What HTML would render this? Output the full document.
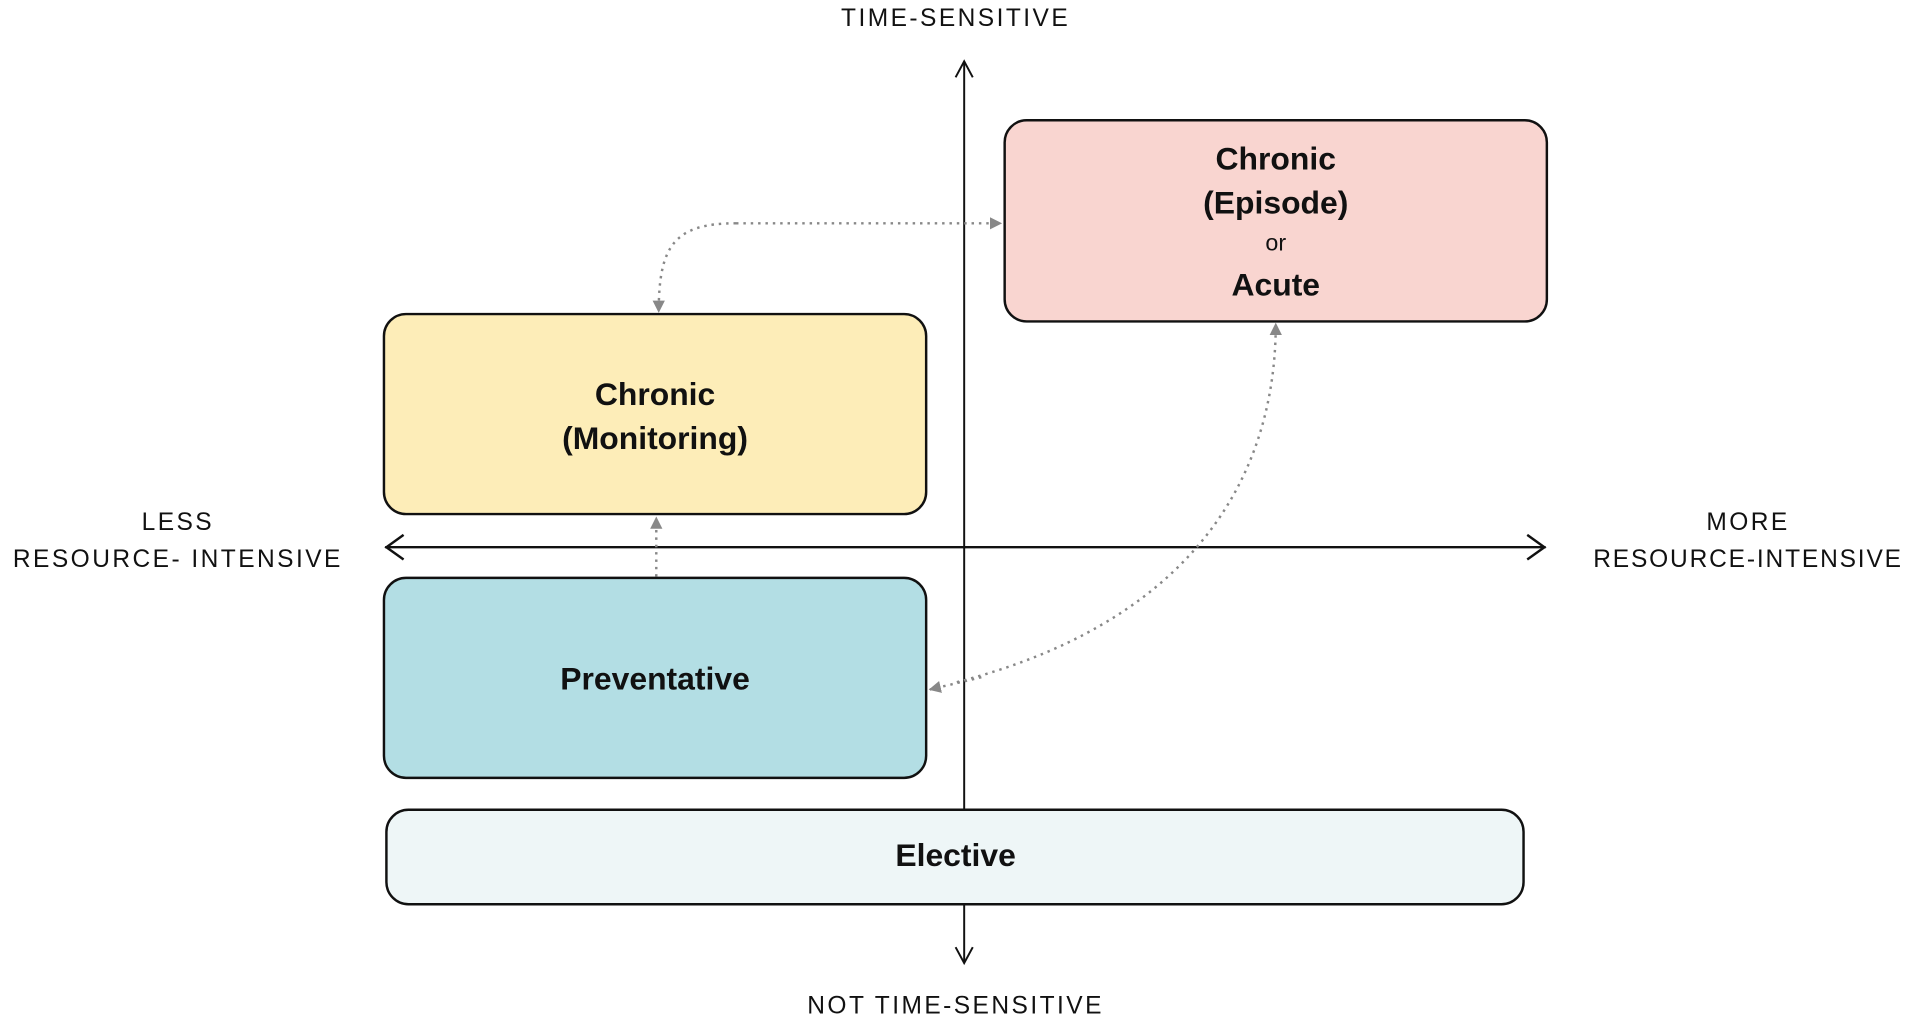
<!DOCTYPE html>
<html><head><meta charset="utf-8"><style>html,body{margin:0;padding:0;background:#fff;}svg{display:block}</style></head>
<body>
<svg width="1921" height="1022" viewBox="0 0 1566 833" preserveAspectRatio="none" xmlns="http://www.w3.org/2000/svg" font-family="Liberation Sans, sans-serif">
<defs>
<marker id="g" markerWidth="10" markerHeight="10" refX="9" refY="5" orient="auto" markerUnits="userSpaceOnUse" viewBox="0 0 10 10"><path d="M0,0 L10,5 L0,10 z" fill="#888"/></marker>
</defs>
<!-- axes -->
<line x1="786" y1="50" x2="786" y2="785" stroke="#111" stroke-width="1.6"/>
<polyline points="779,63 786,50 793,63" fill="none" stroke="#111" stroke-width="1.6"/>
<polyline points="779,772 786,785 793,772" fill="none" stroke="#111" stroke-width="1.6"/>
<line x1="314" y1="446" x2="1260" y2="446" stroke="#111" stroke-width="2"/>
<polyline points="329,436 315,446 329,456" fill="none" stroke="#111" stroke-width="2"/>
<polyline points="1245,436 1259,446 1245,456" fill="none" stroke="#111" stroke-width="2"/>
<!-- boxes -->
<rect x="819" y="98" width="442" height="164" rx="18" fill="#f9d5d0" stroke="#111" stroke-width="2"/>
<rect x="313" y="256" width="442" height="163" rx="18" fill="#fdedb8" stroke="#111" stroke-width="2"/>
<rect x="313" y="471" width="442" height="163" rx="18" fill="#b3dee4" stroke="#111" stroke-width="2"/>
<rect x="315" y="660" width="927" height="77" rx="18" fill="#eef6f7" stroke="#111" stroke-width="2"/>
<!-- connectors -->
<g fill="none" stroke="#888" stroke-width="2" stroke-dasharray="2,4">
<path d="M600,182 L816,182" marker-end="url(#g)"/>
<path d="M600,182 C550,182 537,200 537,254" marker-end="url(#g)"/>
<path d="M535,470 L535,422" marker-end="url(#g)"/>
<path d="M780,556 C960,510 1040,400 1040,264" marker-end="url(#g)"/>
<path d="M800,552 L758,562" marker-end="url(#g)"/>
</g>
<!-- texts -->
<g fill="#111" text-anchor="middle" font-weight="bold" font-size="26">
<text x="1040" y="138">Chronic</text>
<text x="1040" y="174">(Episode)</text>
<text x="1040" y="204" font-weight="normal" font-size="19">or</text>
<text x="1040" y="241">Acute</text>
<text x="534" y="330">Chronic</text>
<text x="534" y="366">(Monitoring)</text>
<text x="534" y="562">Preventative</text>
<text x="779" y="706">Elective</text>
</g>
<g fill="#111" text-anchor="middle" font-size="20" letter-spacing="2">
<text x="779" y="21">TIME-SENSITIVE</text>
<text x="779" y="826">NOT TIME-SENSITIVE</text>
<text x="145" y="432">LESS</text>
<text x="145" y="462">RESOURCE- INTENSIVE</text>
<text x="1425" y="432">MORE</text>
<text x="1425" y="462" letter-spacing="1.5">RESOURCE-INTENSIVE</text>
</g>
</svg>
</body></html>
